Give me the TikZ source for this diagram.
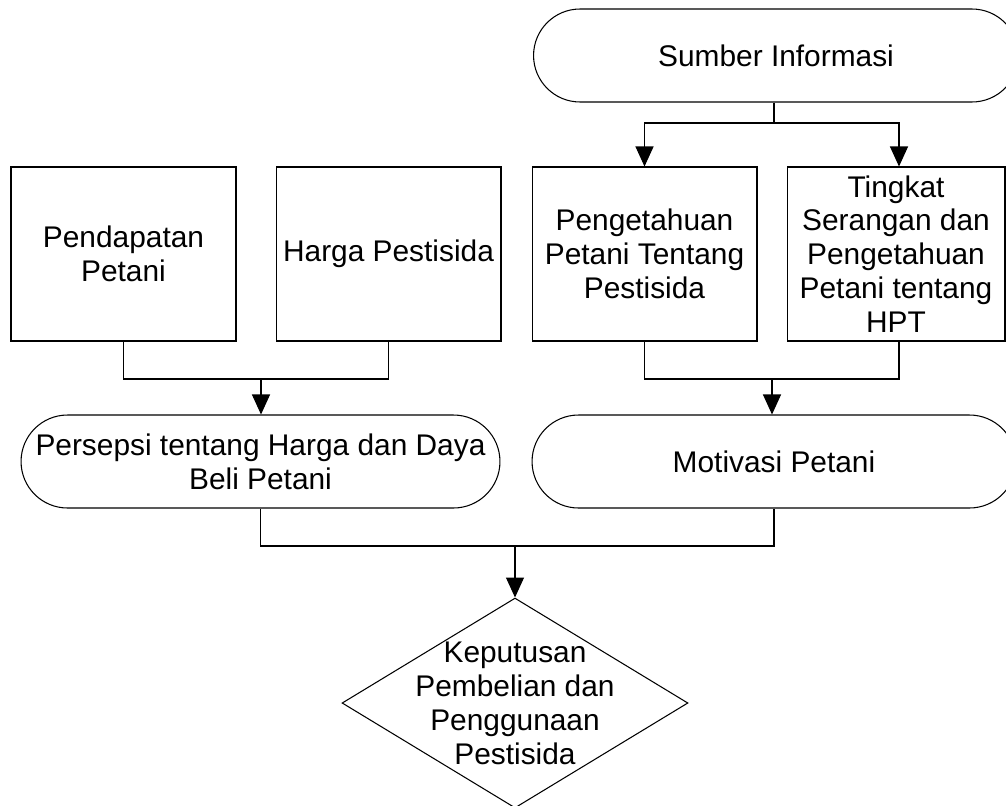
\documentclass[tikz,border=0pt]{standalone}
\usepackage{fontspec}
\setmainfont{Liberation Sans}
\usetikzlibrary{arrows.meta,shapes.geometric}

\begin{document}
\begin{tikzpicture}[x=0.02cm,y=-0.02cm,line width=0.6pt,>={Triangle[width=0.36cm,length=0.4cm]},
    every node/.style={font=\fontsize{17}{19.3}\selectfont,align=center,inner sep=0pt},
    box/.style={draw,rectangle,minimum height=3.48cm},
    pill/.style={draw,rectangle,rounded corners=0.93cm,minimum height=1.86cm},
    decision/.style={draw,diamond,minimum width=6.92cm,minimum height=4.2cm}]
      \useasboundingbox (0,0) rectangle (1006,805);
      % top row
      \node[pill,minimum width=9.7cm] (sumber) at (776,55.5) {Sumber Informasi};
      \node[box,minimum width=4.5cm] (pendapatan) at (123.5,254) {Pendapatan\\Petani};
      \node[box,minimum width=4.5cm] (harga) at (388.5,254) {Harga Pestisida};
      \node[box,minimum width=4.5cm] (pengetahuan) at (644.5,254) {Pengetahuan\\Petani Tentang\\Pestisida};
      \node[box,minimum width=4.36cm] (tingkat) at (896,254) {Tingkat\\Serangan dan\\Pengetahuan\\Petani tentang\\HPT};
      % middle row
      \node[pill,minimum width=9.58cm] (persepsi) at (260.5,461.5) {Persepsi tentang Harga dan Daya\\Beli Petani};
      \node[pill,minimum width=9.68cm] (motivasi) at (774,461.5) {Motivasi Petani};
      % decision
      \node[decision] (keputusan) at (515,703) {};
      \node (keputusantext) at (keputusan) {Keputusan\\Pembelian dan\\Penggunaan\\Pestisida};
      % connectors
      \coordinate (split) at (774,123);
      \coordinate (join1) at (261,379);
      \coordinate (join2) at (772,379);
      \coordinate (join3) at (515,546);
      \draw (sumber.south -| split) -- (split);
      \draw[->] (split) -| (pengetahuan.north);
      \draw[->] (split) -| ([xshift=0.06cm]tingkat.north);
      \draw (pendapatan.south) |- (join1) -| (harga.south);
      \draw[->] (join1) -- (join1 |- persepsi.north);
      \draw (pengetahuan.south) |- (join2) -| ([xshift=0.06cm]tingkat.south);
      \draw[->] (join2) -- (join2 |- motivasi.north);
      \draw (persepsi.south) |- (join3) -| (motivasi.south);
      \draw[->] (join3) -- (keputusan.north);
\end{tikzpicture}
\end{document}
